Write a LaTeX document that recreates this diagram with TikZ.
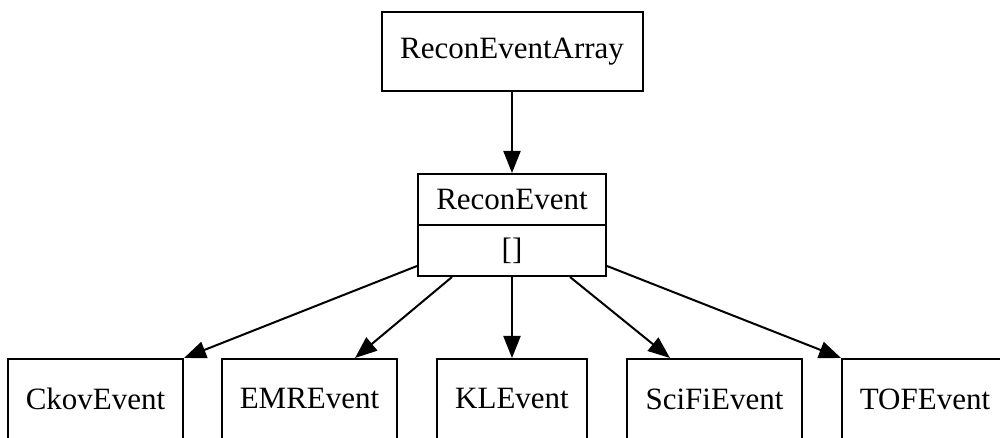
\documentclass[tikz,border=0pt]{standalone}
\usepackage{fontspec}
\setmainfont{Liberation Serif}
\usetikzlibrary{arrows.meta}
\begin{document}
\begin{tikzpicture}[x=1pt,y=1pt,
  box/.style={draw,line width=2pt,inner sep=0pt,font=\fontsize{31}{36}\selectfont},
  lbl/.style={inner sep=0pt,font=\fontsize{31}{36}\selectfont},
  arr/.style={line width=2pt,-{Triangle[length=22pt,width=17pt]}}]
\clip (0,0) rectangle (1000,438);
\fill[white] (0,0) rectangle (1000,438);
\node[box,minimum width=261pt,minimum height=79pt] (top) at (512,386.5) {ReconEventArray};
\node[box,minimum width=188pt,minimum height=102pt] (re) at (512,213) {};
\draw[line width=2pt] (re.west) -- (re.east);
\node[lbl] (reA) at ([yshift=25.5pt]re.center) {ReconEvent};
\node[lbl] (reB) at ([yshift=-25.5pt]re.center) {[]};
\node[box,minimum width=175pt,minimum height=80pt] (ck) at (95.5,39) {CkovEvent};
\node[box,minimum width=175pt,minimum height=80pt] (emr) at (309.5,39) {EMREvent};
\node[box,minimum width=150pt,minimum height=80pt] (kl) at (512,39) {KLEvent};
\node[box,minimum width=175pt,minimum height=80pt] (sci) at (714.5,39) {SciFiEvent};
\node[box,minimum width=166pt,minimum height=80pt] (tof) at (925,39) {TOFEvent};
\draw[arr] (top.south) -- (re.north);
\draw[arr] ([yshift=11pt]re.south west) -- (ck.north east);
\draw[arr] ([xshift=-60pt]re.south) -- ([xshift=45.5pt]emr.north);
\draw[arr] (re.south) -- (kl.north);
\draw[arr] ([xshift=58pt]re.south) -- ([xshift=-44.5pt]sci.north);
\draw[arr] ([yshift=11pt]re.south east) -- (tof.north west);
\end{tikzpicture}
\end{document}
